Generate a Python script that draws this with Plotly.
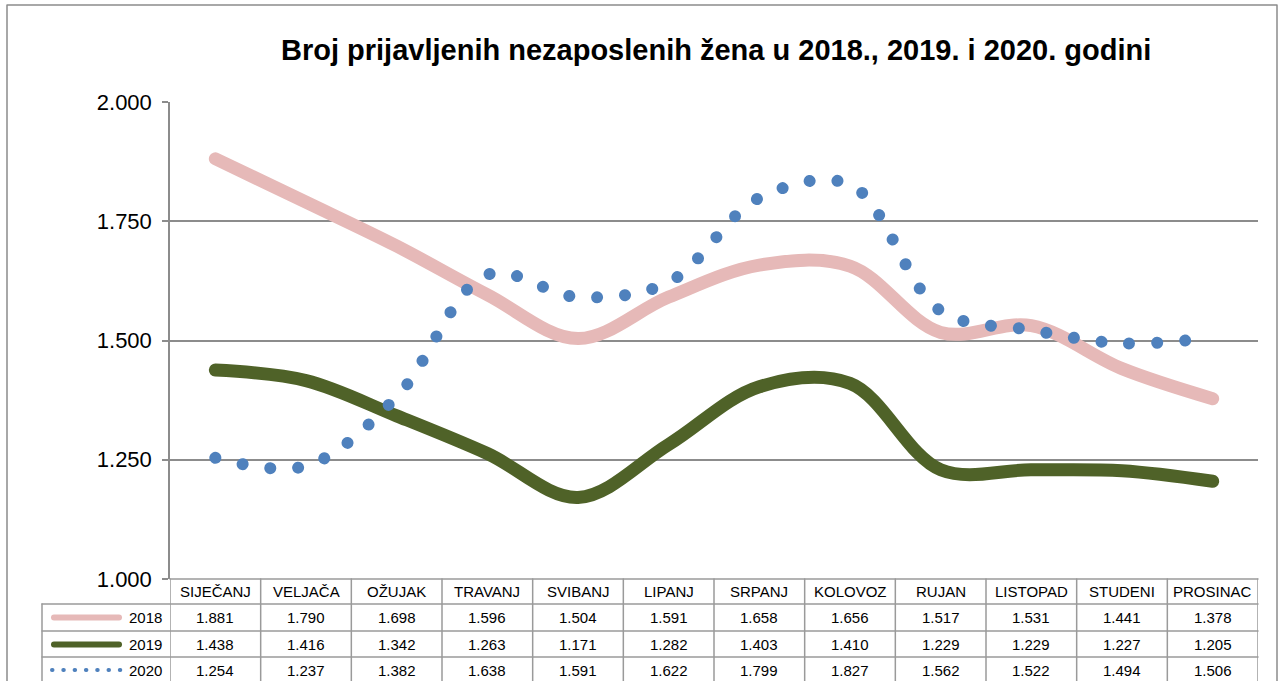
import plotly.graph_objects as go

W, H = 1284, 681

months = ["SIJEČANJ", "VELJAČA", "OŽUJAK", "TRAVANJ", "SVIBANJ", "LIPANJ",
          "SRPANJ", "KOLOVOZ", "RUJAN", "LISTOPAD", "STUDENI", "PROSINAC"]
s2018 = [1.881, 1.790, 1.698, 1.596, 1.504, 1.591, 1.658, 1.656, 1.517, 1.531, 1.441, 1.378]
s2019 = [1.438, 1.416, 1.342, 1.263, 1.171, 1.282, 1.403, 1.410, 1.229, 1.229, 1.227, 1.205]
s2020 = [1.254, 1.237, 1.382, 1.638, 1.591, 1.622, 1.799, 1.827, 1.562, 1.522, 1.494, 1.506]
series_names = ["2018", "2019", "2020"]
y_ticks = [1.0, 1.25, 1.5, 1.75, 2.0]
y_ticktext = ["1.000", "1.250", "1.500", "1.750", "2.000"]
title = "Broj prijavljenih nezaposlenih žena u 2018., 2019. i 2020. godini"

PINK = "#E6B9B8"
GREEN = "#4F6228"
BLUE = "#4F81BD"
GRID = "#8C8C8C"
FONT = "Liberation Sans, Arial, sans-serif"

def px(x):
    return x / W

def py(y):
    return 1 - y / H

# plot area in pixels
L, R, T, B = 170, 1258, 102, 579

fig = go.Figure()
fig.add_trace(go.Scatter(x=list(range(12)), y=s2018, mode="lines", name="2018",
                         line=dict(color=PINK, width=13, shape="spline", smoothing=1)))
fig.add_trace(go.Scatter(x=list(range(12)), y=s2019, mode="lines", name="2019",
                         line=dict(color=GREEN, width=13, shape="spline", smoothing=1)))
fig.add_trace(go.Scatter(x=list(range(12)), y=s2020, mode="lines", name="2020",
                         line=dict(color=BLUE, width=12, shape="spline", smoothing=1,
                                   dash="0.5px,27.5px")))

shapes = []
annotations = []

# outer frame
shapes.append(dict(type="rect", xref="paper", yref="paper",
                   x0=px(7), x1=px(1277), y0=py(700), y1=py(5),
                   line=dict(color="#8C8C8C", width=1.5), layer="below"))

# table geometry
row_lines = [604, 631, 657]
row_centers = [617.5, 644.5, 670]
header_center = 591.5
tcol = "#9A9A9A"
TFS = 15

shapes.append(dict(type="line", xref="paper", yref="paper", x0=px(L), x1=px(R),
                   y0=py(B), y1=py(B), line=dict(color=tcol, width=1.5)))
for yl in row_lines:
    shapes.append(dict(type="line", xref="paper", yref="paper", x0=px(42), x1=px(R),
                       y0=py(yl), y1=py(yl), line=dict(color=tcol, width=1.5)))
for k in range(13):
    shapes.append(dict(type="line", xref="x", yref="paper", x0=k - 0.5, x1=k - 0.5,
                       y0=py(B), y1=py(700), line=dict(color=tcol, width=1.5)))
shapes.append(dict(type="line", xref="paper", yref="paper", x0=px(42), x1=px(42),
                   y0=py(604), y1=py(700), line=dict(color=tcol, width=1.5)))

for i, m in enumerate(months):
    annotations.append(dict(x=i, y=py(header_center), xref="x", yref="paper", text=m,
                            showarrow=False, font=dict(family=FONT, size=TFS, color="black"),
                            xanchor="center", yanchor="middle"))
for r, vals in enumerate([s2018, s2019, s2020]):
    for i, v in enumerate(vals):
        annotations.append(dict(x=i, y=py(row_centers[r]), xref="x", yref="paper",
                                text=f"{v:.3f}", showarrow=False,
                                font=dict(family=FONT, size=TFS, color="black"),
                                xanchor="center", yanchor="middle"))
    annotations.append(dict(x=px(164), y=py(row_centers[r]), xref="paper", yref="paper",
                            text=series_names[r], showarrow=False,
                            font=dict(family=FONT, size=TFS, color="black"),
                            xanchor="right", yanchor="middle"))

# legend samples
shapes.append(dict(type="line", xref="paper", yref="paper", x0=px(54), x1=px(119),
                   y0=py(row_centers[0]), y1=py(row_centers[0]),
                   line=dict(color=PINK, width=6)))
shapes.append(dict(type="line", xref="paper", yref="paper", x0=px(54), x1=px(119),
                   y0=py(row_centers[1]), y1=py(row_centers[1]),
                   line=dict(color=GREEN, width=6)))
shapes.append(dict(type="line", xref="paper", yref="paper", x0=px(52), x1=px(122),
                   y0=py(row_centers[2]), y1=py(row_centers[2]),
                   line=dict(color=BLUE, width=4, dash="0.5px,10.8px")))

annotations.append(dict(x=px(716), y=py(50), xref="paper", yref="paper", text=f"<b>{title}</b>",
                        showarrow=False, font=dict(family=FONT, size=29, color="black"),
                        xanchor="center", yanchor="middle"))

fig.update_layout(
    width=W, height=H,
    margin=dict(l=0, r=0, t=0, b=0, pad=0, autoexpand=False),
    paper_bgcolor="white", plot_bgcolor="white",
    showlegend=False,
    xaxis=dict(domain=[px(L), px(R)], range=[-0.5, 11.5], showgrid=False, automargin=False,
               showticklabels=False, zeroline=False, showline=False, ticks=""),
    yaxis=dict(domain=[py(B), py(T)], range=[1.0, 2.0], tickvals=y_ticks, ticktext=y_ticktext,
               automargin=False,
               showgrid=True, gridcolor=GRID, gridwidth=1.5, zeroline=False,
               showline=True, linecolor=GRID, linewidth=1.5,
               ticks="outside", ticklen=6, tickcolor=GRID, tickwidth=1.5,
               ticklabelstandoff=6,
               tickfont=dict(family=FONT, size=22, color="black")),
    shapes=shapes,
    annotations=annotations,
)

post = """
var hs = document.documentElement.style, bs = document.body.style;
hs.margin = '0'; hs.padding = '0'; hs.overflow = 'hidden';
bs.margin = '0'; bs.padding = '0'; bs.overflow = 'hidden';
var gd = document.getElementById('{plot_id}');
var st = document.createElement('style');
st.textContent = '.scatterlayer path.js-line, .shapelayer path {stroke-linecap: round !important; stroke-linejoin: round !important;}';
document.head.appendChild(st);
var st2 = document.createElement('style');
document.head.appendChild(st2);
function applyDash(){
  try {
    var paths = gd.querySelectorAll('.scatterlayer path.js-line');
    for (var i = 0; i < paths.length; i++) {
      var p = paths[i];
      var da = p.style.strokeDasharray || p.getAttribute('stroke-dasharray') || '';
      if (da && da !== 'none' && p.getTotalLength) {
        var len = p.getTotalLength();
        if (!(len > 0)) continue;
        var n = Math.max(1, Math.round(len / 28));
        var s = (len - 0.05) / n;
        p.classList.add('dots2020');
        st2.textContent = 'path.dots2020 {stroke-dasharray: 0.01px ' + (s - 0.01).toFixed(3) + 'px !important;}';
      }
    }
  } catch (e) {}
}
applyDash();
if (window.requestAnimationFrame) requestAnimationFrame(applyDash);
setTimeout(applyDash, 0);
setTimeout(applyDash, 150);
if (gd && gd.on) gd.on('plotly_afterplot', applyDash);
"""

fig.write_html("out.html", post_script=post, config={"displayModeBar": False})
